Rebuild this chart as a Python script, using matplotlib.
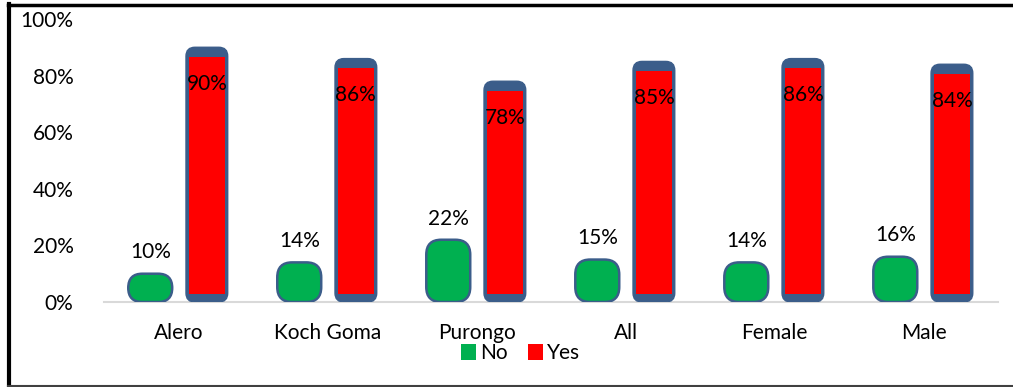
import matplotlib.pyplot as plt
from matplotlib.patches import FancyBboxPatch, Rectangle
from matplotlib.lines import Line2D
import numpy as np

# Respuestas por grupo (porcentaje)
categories = ['Alero', 'Koch Goma', 'Purongo', 'All', 'Female', 'Male']
no_values = [10, 14, 22, 15, 14, 16]
yes_values = [90, 86, 78, 85, 86, 84]
yticks = [0, 20, 40, 60, 80, 100]

GREEN = '#00B050'
RED = '#FF0000'
BLUE = '#3B5D8A'
FONT = 'Lato'
FS = 15

fig = plt.figure(figsize=(10.13, 3.87), dpi=100)
ax = fig.add_axes([0.1027, 0.2196, 0.8826, 0.7314])

x = np.arange(len(categories))
off = 0.19
bars_no = ax.bar(x - off, no_values, width=0.295, color=GREEN)
bars_yes = ax.bar(x + off, yes_values, width=0.28, color=RED)

ax.set_xlim(-0.5, len(categories) - 0.5)
ax.set_ylim(0, 100)
aspect = (894 / 6) / (283 / 100)  # px por unidad x / px por unidad y

# Barras redondeadas en lugar de los rectángulos
for b in bars_no:
    b.set_visible(False)
    x0, y0, w, h = b.get_x(), b.get_y(), b.get_width(), b.get_height()
    r = min(0.1, h / aspect / 2)
    p = FancyBboxPatch((x0, y0), w, h,
                       boxstyle=f"round,pad=0,rounding_size={r}",
                       mutation_aspect=aspect, facecolor=GREEN,
                       edgecolor=BLUE, linewidth=1.8, zorder=3)
    ax.add_patch(p)

for b in bars_yes:
    b.set_visible(False)
    x0, y0, w, h = b.get_x(), b.get_y(), b.get_width(), b.get_height()
    r = 0.06
    outer = FancyBboxPatch((x0, y0), w, h,
                           boxstyle=f"round,pad=0,rounding_size={r}",
                           mutation_aspect=aspect, facecolor=BLUE,
                           edgecolor=BLUE, linewidth=1, zorder=3)
    ax.add_patch(outer)
    inset = 0.02
    inner = Rectangle((x0 + inset, y0 + 3), w - 2 * inset, h - 6.5,
                      facecolor=RED, edgecolor='none', zorder=4)
    ax.add_patch(inner)

# Etiquetas de valores
for xi, v in zip(x - off, no_values):
    ax.text(xi, v + 7.5, f'{v}%', ha='center', va='center',
            fontsize=FS, family=FONT, color='black', zorder=5)
for xi, v in zip(x + off, yes_values):
    ax.text(xi, v - 13, f'{v}%', ha='center', va='center',
            fontsize=FS, family=FONT, color='black', zorder=5)

ax.set_yticks(yticks)
ax.set_yticklabels([f'{t}%' for t in yticks], family=FONT, fontsize=FS)
ax.set_xticks(x)
ax.set_xticklabels(categories, family=FONT, fontsize=FS)
ax.tick_params(axis='both', length=0)
ax.tick_params(axis='y', pad=22)
ax.tick_params(axis='x', pad=15)

for s in ['top', 'right', 'left']:
    ax.spines[s].set_visible(False)
ax.spines['bottom'].set_color('#D9D9D9')
ax.spines['bottom'].set_linewidth(1.5)

# Leyenda
handles = [FancyBboxPatch((0, 0), 1, 1, boxstyle='round,pad=0,rounding_size=0.3',
                          facecolor=GREEN, edgecolor='none'),
           FancyBboxPatch((0, 0), 1, 1, boxstyle='round,pad=0,rounding_size=0.3',
                          facecolor=RED, edgecolor='none')]
fig.legend(handles, ['No', 'Yes'], loc='center', bbox_to_anchor=(0.514, 0.088),
           ncol=2, frameon=False, prop={'family': FONT, 'size': FS},
           handlelength=0.7, handleheight=0.8, handletextpad=0.2, columnspacing=1.0)

# Marco de la figura
fig.add_artist(Line2D([0.009, 0.009], [0, 0.99], color='black', linewidth=3))
fig.add_artist(Line2D([0.008, 1], [0.987, 0.987], color='black', linewidth=2.5))
fig.add_artist(Line2D([0.008, 1], [0.003, 0.003], color='#404040', linewidth=1.5))

fig.savefig('out.png', dpi=100)
